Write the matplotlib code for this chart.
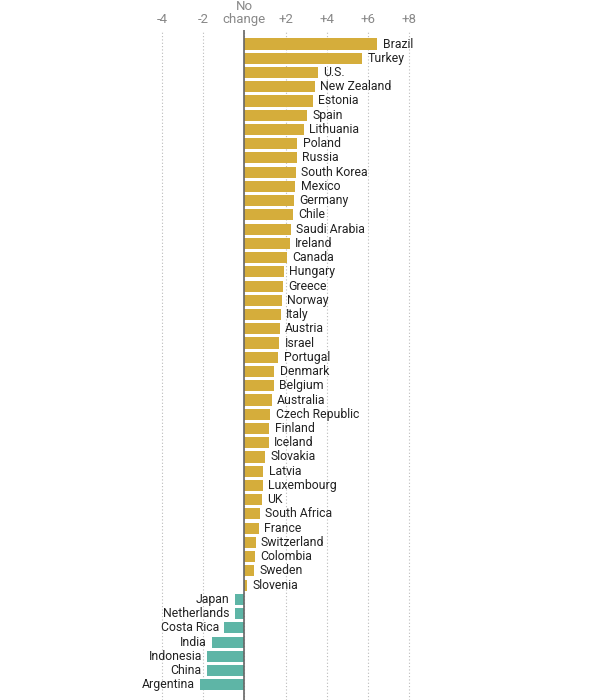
import matplotlib
matplotlib.use("Agg")
import matplotlib.pyplot as plt

countries = ["Brazil", "Turkey", "U.S.", "New Zealand", "Estonia", "Spain", "Lithuania",
             "Poland", "Russia", "South Korea", "Mexico", "Germany", "Chile", "Saudi Arabia",
             "Ireland", "Canada", "Hungary", "Greece", "Norway", "Italy", "Austria", "Israel",
             "Portugal", "Denmark", "Belgium", "Australia", "Czech Republic", "Finland",
             "Iceland", "Slovakia", "Latvia", "Luxembourg", "UK", "South Africa", "France",
             "Switzerland", "Colombia", "Sweden", "Slovenia", "Japan", "Netherlands",
             "Costa Rica", "India", "Indonesia", "China", "Argentina"]
values = [6.46, 5.73, 3.56, 3.43, 3.32, 3.06, 2.90,
          2.57, 2.54, 2.52, 2.48, 2.40, 2.38, 2.27,
          2.22, 2.09, 1.91, 1.86, 1.83, 1.78, 1.73, 1.70,
          1.65, 1.46, 1.43, 1.33, 1.27, 1.21,
          1.18, 1.00, 0.92, 0.89, 0.84, 0.76, 0.70,
          0.55, 0.50, 0.46, 0.15, -0.47, -0.45,
          -0.97, -1.55, -1.80, -1.83, -2.17]
tick_values = [-4, -2, 0, 2, 4, 6, 8]
tick_labels = ["-4", "-2", "No\nchange", "+2", "+4", "+6", "+8"]

GOLD = "#D5AD3B"
TEAL = "#5EB5A6"

plt.rcParams['font.family'] = ['Roboto', 'DejaVu Sans']

W, H = 616, 700
fig = plt.figure(figsize=(W / 100, H / 100), dpi=100)
ax = fig.add_axes([0, 0, 1, 670 / H])

px_per_unit = 20.6
zero_px = 244.3
ax.set_xlim(-zero_px / px_per_unit, (W - zero_px) / px_per_unit)
row_px = 14.24
first_px = 44
ax.set_ylim((H - first_px) / row_px, (30 - first_px) / row_px)

ypos = list(range(len(countries)))
colors = [GOLD if v >= 0 else TEAL for v in values]
ax.barh(ypos, values, height=0.78, color=colors, zorder=2)

for y, v, name in zip(ypos, values, countries):
    if v >= 0:
        ax.annotate(name, (v, y), xytext=(3.8, 0), textcoords="offset points",
                    ha="left", va="center", fontsize=8.8, color="#222222")
    else:
        ax.annotate(name, (v, y), xytext=(-3.8, 0), textcoords="offset points",
                    ha="right", va="center", fontsize=8.8, color="#222222")

ax.axvline(0, color="#666666", lw=1.2, zorder=3)

ax.xaxis.tick_top()
ax.set_xticks(tick_values)
ax.set_xticklabels(tick_labels, fontsize=9.5, color="#888888", linespacing=1.0)
ax.tick_params(axis="x", length=0, pad=3)
ax.set_yticks([])
ax.grid(axis="x", linestyle=(0, (1, 2)), color="#BBBBBB", lw=0.8, zorder=0)
for s in ax.spines.values():
    s.set_visible(False)

fig.savefig("out.png", dpi=100, facecolor="white")
